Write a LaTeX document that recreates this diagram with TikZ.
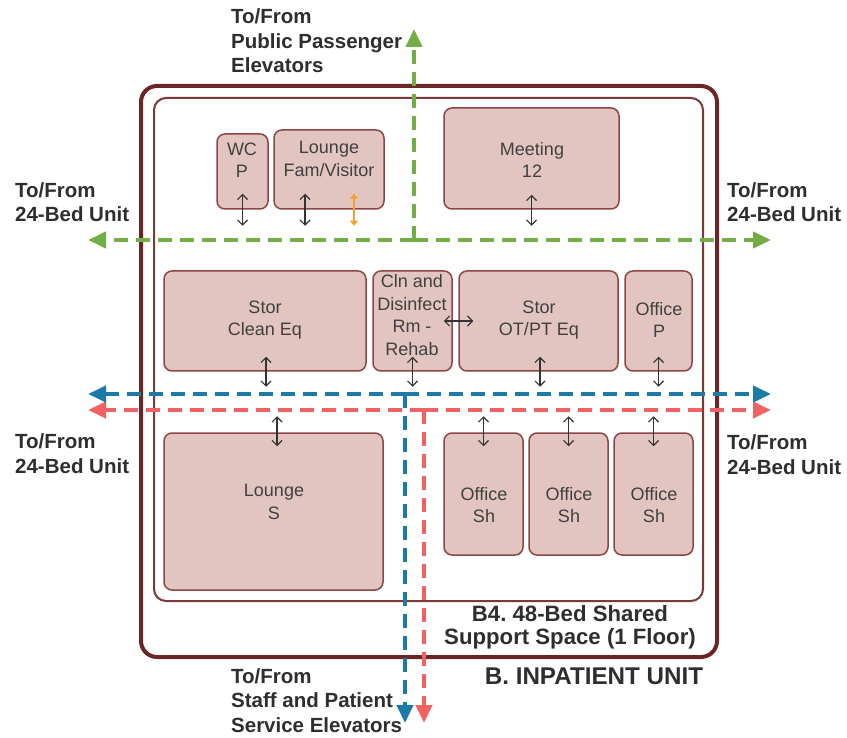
\documentclass[tikz,border=0pt]{standalone}
\usepackage{fontspec}
\setmainfont{Liberation Sans}
\usetikzlibrary{arrows.meta}
\frenchspacing

\definecolor{pathgreen}{HTML}{72AE44}
\definecolor{pathblue}{HTML}{1B7AA8}
\definecolor{pathred}{HTML}{F26262}
\definecolor{pathorange}{HTML}{F5A02A}
\definecolor{roomfill}{HTML}{E2C5C1}
\definecolor{roomedge}{HTML}{8B4646}
\definecolor{outeredge}{HTML}{6A2626}
\definecolor{inneredge}{HTML}{7A3A3A}
\definecolor{labeltext}{HTML}{2E2E2E}
\definecolor{roomtext}{HTML}{404040}

\begin{document}
\begin{tikzpicture}[x=1pt,y=-1pt,
  room/.style={draw=roomedge, fill=roomfill, line width=1.5pt, rounded corners=8pt, inner sep=0pt},
  roomlabel/.style={align=center, text=roomtext, inner sep=0pt, font=\fontsize{18}{22.5}\selectfont},
  biglabel/.style={align=left, text=labeltext, inner sep=0pt, anchor=base west, font=\bfseries\fontsize{20.5}{24.5}\selectfont},
  corridor/.style={line width=4pt, dash pattern=on 14pt off 8pt, -{Triangle[length=18pt,width=16pt]}},
  doorway/.style={line width=1.1pt, draw=black!80, {Straight Barb[length=5pt,width=10pt]}-{Straight Barb[length=5pt,width=10pt]}},
  publicdoor/.style={line width=1.5pt, draw=pathorange, {Triangle[length=5pt,width=8pt]}-{Triangle[length=5pt,width=8pt]}}
]
\useasboundingbox (0,0) rectangle (847,738);

% building outline and support space outline
\draw[outeredge, line width=4pt, rounded corners=16pt] (141,86) rectangle (717,657);
\draw[inneredge, line width=2pt, rounded corners=12pt] (154,98) rectangle (703,601);

% rooms
\node[room, minimum width=51pt,  minimum height=75pt]  (wc)      at (242.5,171.5) {};
\node[room, minimum width=110pt, minimum height=79pt]  (famlng)  at (329,169.5)   {};
\node[room, minimum width=175pt, minimum height=101pt] (meeting) at (531.5,158.5) {};
\node[room, minimum width=202pt, minimum height=100pt] (cleaneq) at (265,321)     {};
\node[room, minimum width=79pt,  minimum height=100pt] (clnrm)   at (412.5,321)   {};
\node[room, minimum width=159pt, minimum height=100pt] (otpt)    at (538.5,321)   {};
\node[room, minimum width=67pt,  minimum height=100pt] (officep) at (658.5,321)   {};
\node[room, minimum width=219pt, minimum height=157pt] (lounges) at (273.5,511.5) {};
\node[room, minimum width=79pt,  minimum height=122pt] (sha)     at (483.5,494)   {};
\node[room, minimum width=79pt,  minimum height=122pt] (shb)     at (568.5,494)   {};
\node[room, minimum width=79pt,  minimum height=122pt] (shc)     at (653.5,494)   {};

% room names
\node[roomlabel] (wct)      at (242,160) {WC\\P};
\node[roomlabel] (famlngt)  at (329,159) {Lounge\\Fam/Visitor};
\node[roomlabel] (meetingt) at (532,160) {Meeting\\12};
\node[roomlabel] (cleaneqt) at (265,320) {Stor\\Clean Eq};
\node[roomlabel] (clnrmt)   at (412,315) {Cln and\\Disinfect\\Rm -\\Rehab};
\node[roomlabel] (otptt)    at (539,320) {Stor\\OT/PT Eq};
\node[roomlabel] (officept) at (659,320) {Office\\P};
\node[roomlabel] (loungest) at (274,502) {Lounge\\S};
\node[roomlabel] (shat)     at (484,505) {Office\\Sh};
\node[roomlabel] (shbt)     at (569,505) {Office\\Sh};
\node[roomlabel] (shct)     at (654,505) {Office\\Sh};

% corridor end points
\coordinate (gJ) at (414,240);
\coordinate (gL) at (88,240);
\coordinate (gR) at (771,240);
\coordinate (gT) at (414,29);
\coordinate (bJ) at (405,394);
\coordinate (bL) at (88,394);
\coordinate (bR) at (771,394);
\coordinate (bB) at (405,723);
\coordinate (rJ) at (424,410);
\coordinate (rL) at (88,410);
\coordinate (rR) at (771,410);
\coordinate (rB) at (424,723);

% public circulation
\draw[corridor, pathgreen] (gJ) -- (gL);
\draw[corridor, pathgreen] (gJ) -- (gR);
\draw[corridor, pathgreen] (gJ) -- (gT);
% service circulation
\draw[corridor, pathred] (rJ) -- (rL);
\draw[corridor, pathred] (rJ) -- (rR);
\draw[corridor, pathred] (rJ) -- (rB);
% staff circulation
\draw[corridor, pathblue] (bJ) -- (bL);
\draw[corridor, pathblue] (bJ) -- (bR);
\draw[corridor, pathblue] (bJ) -- (bB);

% doorways
\draw[doorway] ([yshift=16pt]wc.south) -- ([yshift=-16pt]wc.south);
\draw[doorway] ([xshift=-24pt,yshift=16pt]famlng.south) -- ([xshift=-24pt,yshift=-16pt]famlng.south);
\draw[publicdoor] ([xshift=25pt,yshift=16pt]famlng.south) -- ([xshift=25pt,yshift=-16pt]famlng.south);
\draw[doorway] ([yshift=15pt]meeting.south) -- ([yshift=-16pt]meeting.south);
\draw[doorway] ([xshift=1pt,yshift=15pt]cleaneq.south) -- ([xshift=1pt,yshift=-15pt]cleaneq.south);
\draw[doorway] ([yshift=15pt]clnrm.south) -- ([yshift=-15pt]clnrm.south);
\draw[doorway] ([xshift=1.5pt,yshift=15pt]otpt.south) -- ([xshift=1.5pt,yshift=-15pt]otpt.south);
\draw[doorway] ([yshift=15pt]officep.south) -- ([yshift=-15pt]officep.south);
\draw[doorway] ([xshift=-9pt]clnrm.east) -- ([xshift=15pt]otpt.west);
\draw[doorway] ([xshift=3.5pt,yshift=16pt]lounges.north) -- ([xshift=3.5pt,yshift=-14pt]lounges.north);
\draw[doorway] ([yshift=16pt]sha.north) -- ([yshift=-14pt]sha.north);
\draw[doorway] ([yshift=16pt]shb.north) -- ([yshift=-14pt]shb.north);
\draw[doorway] ([yshift=16pt]shc.north) -- ([yshift=-14pt]shc.north);

% destination labels (anchored at the baseline of the last line)
\node[biglabel] (toppub)  at (231,73)  {To/From\\Public Passenger\\Elevators};
\node[biglabel] (leftup)  at (15,222)  {To/From\\24-Bed Unit};
\node[biglabel] (rightup) at (727,222) {To/From\\24-Bed Unit};
\node[biglabel] (leftlo)  at (15,473)  {To/From\\24-Bed Unit};
\node[biglabel] (rightlo) at (727,474) {To/From\\24-Bed Unit};
\node[biglabel] (botsvc)  at (231,732) {To/From\\Staff and Patient\\Service Elevators};

% space titles
\node[align=center, text=labeltext, inner sep=0pt, anchor=base, font=\bfseries\fontsize{22.2}{23}\selectfont] (b4title) at (570,644) {B4. 48-Bed Shared\\Support Space (1 Floor)};
\node[text=labeltext, inner sep=0pt, anchor=base, font=\bfseries\fontsize{24.2}{26}\selectfont] (btitle) at (594,684) {B. INPATIENT UNIT};
\end{tikzpicture}
\end{document}
